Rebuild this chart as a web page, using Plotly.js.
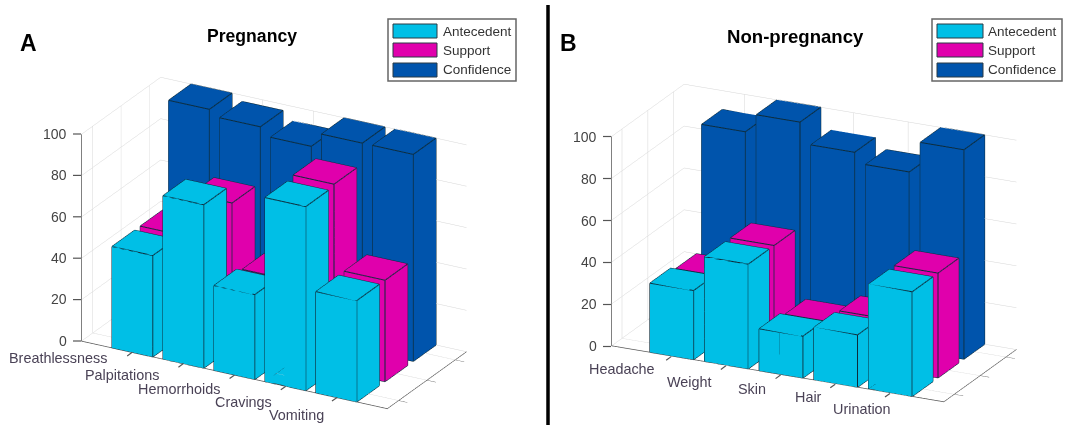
<!DOCTYPE html>
<html><head><meta charset="utf-8">
<script src="https://cdn.plot.ly/plotly-3.0.1.min.js"></script>
<style>html,body{margin:0;padding:0;background:#fff}#c{width:1065px;height:425px}</style>
</head><body><div id="c"></div>
<script>
const W=1065,H=425;
const seriesNames=['Antecedent','Support','Confidence'];
const seriesColors=['#00BFE6','#E000AC','#0054AC'];
const categoriesA=['Breathlessness','Palpitations','Hemorrhoids','Cravings','Vomiting'];
const antecedentA=[49,79,41,89,49];
const supportA=[49,70,39,90,49];
const confidenceA=[100,97,93,100,100];
const categoriesB=['Headache','Weight','Skin','Hair','Urination'];
const antecedentB=[33,50,20,25,50];
const supportB=[31,50,18,24,50];
const confidenceB=[91,100,90,85,100];
const zTicks=[0,20,40,60,80,100];
const yRange=[.6,3.4];

function barTraces(vals,scene){
  const out=[];
  vals.forEach((row,s)=>{
    const x=[],y=[],z=[],i=[],j=[],k=[],ex=[],ey=[],ez=[];
    row.forEach((h,c)=>{
      const x0=c+1-.4,x1=c+1+.4,y0=s+1-.4,y1=s+1+.4,b=x.length;
      [[x0,y0,0],[x1,y0,0],[x1,y1,0],[x0,y1,0],[x0,y0,h],[x1,y0,h],[x1,y1,h],[x0,y1,h]].forEach(p=>{x.push(p[0]);y.push(p[1]);z.push(p[2]);});
      [[0,1,2],[0,2,3],[4,5,6],[4,6,7],[0,1,5],[0,5,4],[1,2,6],[1,6,5],[2,3,7],[2,7,6],[3,0,4],[3,4,7]].forEach(t=>{i.push(b+t[0]);j.push(b+t[1]);k.push(b+t[2]);});
      [[0,1],[1,2],[2,3],[3,0],[4,5],[5,6],[6,7],[7,4],[0,4],[1,5],[2,6],[3,7]].forEach(e=>{
        [e[0],e[1]].forEach(v=>{ex.push(x[b+v]);ey.push(y[b+v]);ez.push(z[b+v]);});
        ex.push(null);ey.push(null);ez.push(null);
      });
    });
    out.push({type:'mesh3d',scene,name:seriesNames[s],x,y,z,i,j,k,color:seriesColors[s],flatshading:true,opacity:1,
      lighting:{ambient:1,diffuse:0,specular:0,fresnel:0,roughness:1},hoverinfo:'skip',showscale:false});
    out.push({type:'scatter3d',scene,mode:'lines',x:ex,y:ey,z:ez,line:{color:'#0d2b3a',width:2},hoverinfo:'skip',showlegend:false});
  });
  return out;
}
function axis(o){
  return Object.assign({title:{text:''},showbackground:false,showspikes:false,showgrid:true,gridcolor:'#d6d6d6',gridwidth:1,
    zeroline:false,showline:true,linecolor:'#555',linewidth:1.5,ticks:'',tickcolor:'#555',ticklen:6,tickwidth:1},o);
}
function scene(cx,cy,w,h,t,el,asp,d,xr){
  const tr=t*Math.PI/180,er=el*Math.PI/180;
  return {
    domain:{x:[(cx-w/2)/W,(cx+w/2)/W],y:[1-(cy+h/2)/H,1-(cy-h/2)/H]},
    aspectmode:'manual',aspectratio:{x:asp[0],y:asp[1],z:asp[2]},
    camera:{projection:{type:'orthographic'},up:{x:0,y:0,z:1},center:{x:0,y:0,z:0},
      eye:{x:d*Math.sin(tr)*Math.cos(er),y:-d*Math.cos(tr)*Math.cos(er),z:d*Math.sin(er)}},
    xaxis:axis({range:xr,tickvals:[1,2,3,4,5],showticklabels:false}),
    yaxis:axis({range:yRange,tickvals:[1,2,3],showticklabels:false,ticks:'outside'}),
    zaxis:axis({range:[0,100],tickvals:zTicks,showticklabels:false}),
    annotations:zTicks.map(v=>({x:xr[0],y:yRange[0],z:v,text:String(v),showarrow:false,xanchor:'right',yanchor:'middle',xshift:-12,
      font:{family:'Liberation Sans',size:14,color:'#444'}}))
  };
}
const font={family:'Liberation Sans',size:14.4,color:'#4a4256'};
const ann=[],shapes=[];
function px(x,y,text,f,xa){ann.push({xref:'paper',yref:'paper',x:x/W,y:1-y/H,text,showarrow:false,font:f||font,xanchor:xa||'center',yanchor:'middle'});}
const bold=(s)=>({family:'Liberation Sans',size:s,color:'#000'});
const labelPosA=[[58,358],[122,375],[179,389],[243,402],[296,415]];
const labelPosB=[[622,369],[689,382],[752,389],[808,397],[862,409]];
categoriesA.forEach((c,i)=>px(labelPosA[i][0],labelPosA[i][1],c));
categoriesB.forEach((c,i)=>px(labelPosB[i][0],labelPosB[i][1],c));
px(252,36,'<b>Pregnancy</b>',bold(17.6));
px(795,36,'<b>Non-pregnancy</b>',bold(18.6));
px(28,43,'<b>A</b>',bold(23));
px(568,43,'<b>B</b>',bold(23));
function rect(x0,y0,x1,y1,fill,line,lw){shapes.push({type:'rect',xref:'paper',yref:'paper',x0:x0/W,x1:x1/W,y0:1-y0/H,y1:1-y1/H,fillcolor:fill,line:{color:line,width:lw}});}
function seg(x0,y0,x1,y1){shapes.push({type:'line',xref:'paper',yref:'paper',x0:x0/W,x1:x1/W,y0:1-y0/H,y1:1-y1/H,line:{color:'#555',width:1.2}});}
function outerTicks(ox,oy,ux,uy,start,zs){
  [1,2,3,4,5].forEach(i=>{const a=ox+ux*(i-start),b=oy+uy*(i-start);seg(a,b,a-5,b+3.6);});
  zTicks.forEach(v=>seg(ox,oy-zs*v,ox-8,oy-zs*v));
}
outerTicks(81,341,51.2,11.3,0,2.07);
outerTicks(611,346.5,54.7,9.2,-.1,2.1);
function legend(bx0,bx1,sx0,sx1,tx){
  rect(bx0,19,bx1,81,'#fff','#666',1.5);
  [[24,38],[43,57],[63,77]].forEach((r,i)=>{
    rect(sx0,r[0],sx1,r[1],seriesColors[i],'#2a3a44',1);
    px(tx,(r[0]+r[1])/2,seriesNames[i],{family:'Liberation Sans',size:13.5,color:'#333'},'left');
  });
}
legend(388,516,393,437,441);
legend(932,1062,937,983,986);
shapes.push({type:'line',xref:'paper',yref:'paper',x0:548/W,x1:548/W,y0:0,y1:1-5/H,line:{color:'#000',width:3.5}});
const data=[...barTraces([antecedentA,supportA,confidenceA],'scene'),...barTraces([antecedentB,supportB,confidenceB],'scene2')];
const layout={width:W,height:H,margin:{l:0,r:0,t:0,b:0},paper_bgcolor:'#fff',showlegend:false,annotations:ann,shapes,
  scene:scene(273.5,242.5,500,360,29,23.5,[1.943,.908,1.253],1.5,[0,6]),
  scene2:scene(813.7,243.4,480,360,25.8,20.4,[2.05,.925,1.241],1.5,[-.1,5.98])};
Plotly.newPlot('c',data,layout,{displayModeBar:false});
</script></body></html>
